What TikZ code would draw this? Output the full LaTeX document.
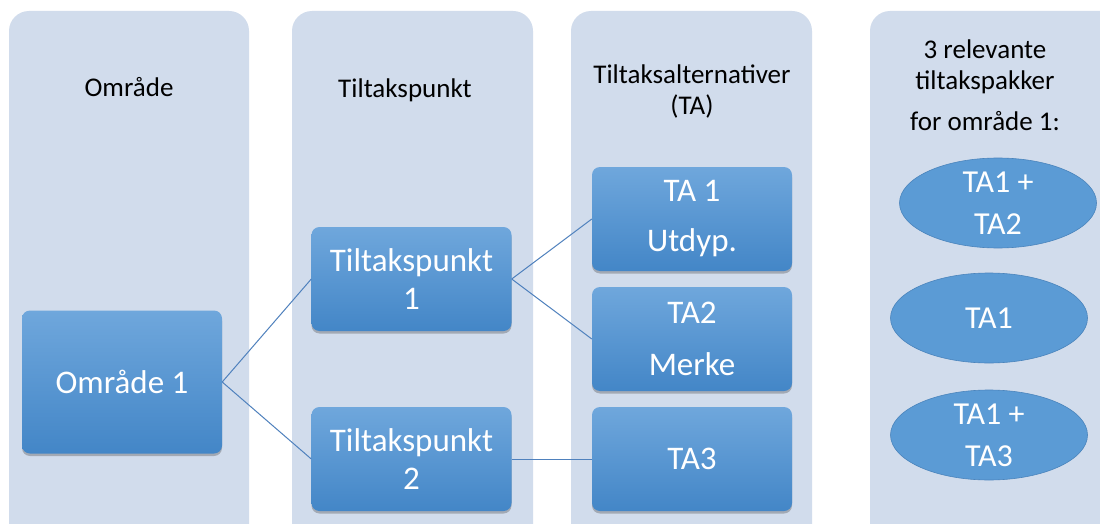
\documentclass[tikz,border=0pt]{standalone}
\usepackage{fontspec}
\setmainfont{Carlito}
\usetikzlibrary{shapes.geometric,shadows}
\definecolor{panelc}{HTML}{D1DCEC}
\definecolor{boxtop}{HTML}{6FA7DC}
\definecolor{boxbot}{HTML}{4386C7}
\definecolor{linkc}{HTML}{4F81BD}
\definecolor{ellfill}{HTML}{5B9BD5}
\definecolor{elldraw}{HTML}{4A84BC}
\begin{document}
\begin{tikzpicture}[x=1pt,y=-1pt,
  panelbox/.style={fill=panelc, rounded corners=20pt},
  head/.style={text=black, font=\fontsize{27}{31}\selectfont, align=center, inner sep=0pt},
  bluebox/.style={rectangle, rounded corners=8pt, top color=boxtop, bottom color=boxbot,
    minimum width=200pt, text=white, font=\fontsize{33}{38}\selectfont, align=center,
    drop shadow={shadow xshift=0pt, shadow yshift=-2.5pt, opacity=0.35, fill=black!70}},
  pack/.style={ellipse, fill=ellfill, draw=elldraw, line width=0.6pt, minimum width=197pt,
    minimum height=90pt, inner sep=0pt, text=white, font=\fontsize{32}{42}\selectfont, align=center},
  connector/.style={draw=linkc, line width=1pt}]
\useasboundingbox (0,0) rectangle (1100,524);
\clip (0,0) rectangle (1100,524);
\fill[white] (0,0) rectangle (1100,524);
% panels
\path[panelbox] (9,11) rectangle (249,560);
\path[panelbox] (292,11) rectangle (533,560);
\path[panelbox] (571,11) rectangle (812,560);
\path[panelbox] (870,11) rectangle (1140,560);
% headers
\node[head] (h1) at (129,87) {Område};
\node[head] (h2) at (405,90) {Tiltakspunkt};
\node[head] (h3) at (692,91) {Tiltaksalternativer\\(TA)};
\node[head] (h4) at (985,85) {3 relevante\\tiltakspakker\\[10pt]for område 1:};
% boxes
\node[bluebox, minimum height=143pt] (o1) at (122,382) {Område 1};
\node[bluebox, minimum height=104pt] (tp1) at (411.5,279) {Tiltakspunkt\\1};
\node[bluebox, minimum height=104pt] (tp2) at (411.5,459) {Tiltakspunkt\\2};
\node[bluebox, minimum height=104pt] (ta1) at (692,219) {TA 1\\[12pt]Utdyp.};
\node[bluebox, minimum height=104pt] (ta2) at (692,339) {TA2\\[14pt]Merke};
\node[bluebox, minimum height=104pt] (ta3) at (692,459) {TA3};
% packages
\node[pack] (e1) at (998,203) {TA1 +\\TA2};
\node[pack] (e2) at (989,318) {TA1};
\node[pack] (e3) at (989,435) {TA1 +\\TA3};
% connectors
\draw[connector] (o1.east) -- (tp1.west);
\draw[connector] (o1.east) -- (tp2.west);
\draw[connector] (tp1.east) -- (ta1.west);
\draw[connector] (tp1.east) -- (ta2.west);
\draw[connector] (tp2.east) -- (ta3.west);
\end{tikzpicture}
\end{document}
